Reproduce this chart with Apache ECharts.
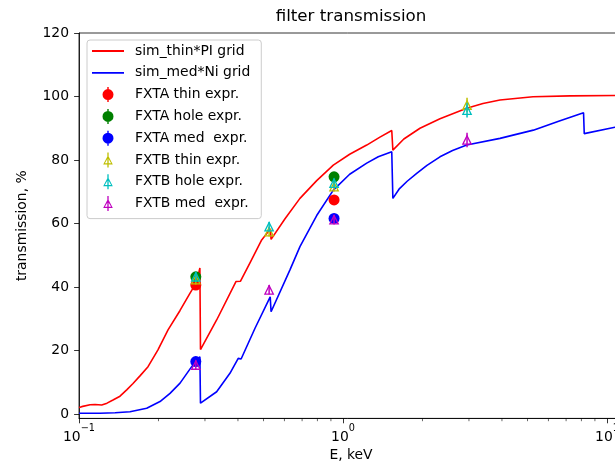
<!DOCTYPE html>
<html>
<head>
<meta charset="utf-8">
<script src="https://cdn.jsdelivr.net/npm/echarts@6/dist/echarts.min.js"></script>
<style>
  html, body { margin: 0; padding: 0; background: #fff; }
  #chart { width: 615px; height: 468px; }
</style>
</head>
<body>
<div id="chart"></div>
<script>
// Simulated transmission of the thin filter behind the PI grid (E in keV, T in %)
const thinE = [0.1, 0.1024, 0.1101, 0.115, 0.1219, 0.1277, 0.1345, 0.143, 0.1516, 0.1602, 0.1702,
  0.1826, 0.1991, 0.2174, 0.2414, 0.2631, 0.279, 0.287, 0.2885, 0.3322, 0.3931, 0.4086, 0.4443,
  0.492, 0.531, 0.534, 0.603, 0.687, 0.795, 0.919, 1.06, 1.23, 1.38, 1.53, 1.545, 1.7, 1.957,
  2.33, 2.942, 3.39, 3.932, 5.245, 7.24, 10.72, 11.5];
const thinT = [2.0, 2.3, 2.9, 3.0, 2.8, 3.4, 4.4, 5.6, 7.6, 9.6, 12.0,
  14.9, 20.2, 26.5, 32.6, 38.0, 41.5, 46.0, 20.3, 29.6, 41.7, 41.8, 47.6,
  54.8, 58.3, 55.0, 61.5, 67.9, 73.5, 78.4, 81.8, 84.7, 87.2, 89.3, 83.1, 86.6, 90.0,
  93.0, 96.3, 97.8, 98.9, 99.9, 100.2, 100.3, 100.3];

// Simulated transmission of the medium filter behind the Ni grid
const medE = [0.1, 0.12, 0.137, 0.156, 0.1805, 0.2027, 0.2212, 0.2414, 0.2672, 0.279, 0.287,
  0.2885, 0.3322, 0.373, 0.401, 0.4112, 0.4642, 0.53, 0.534, 0.6296, 0.687, 0.795, 0.919, 1.06,
  1.23, 1.36, 1.53, 1.545, 1.63, 1.75, 1.902, 2.08, 2.33, 2.6, 2.942, 3.932, 5.26, 6.6, 8.15, 8.2,
  10.72, 11.5];
const medT = [0.2, 0.2, 0.4, 0.7, 1.8, 3.9, 6.5, 9.7, 14.9, 16.8, 18.0,
  3.4, 7.0, 12.8, 17.5, 17.3, 27.0, 36.9, 32.2, 45.4, 52.7, 62.5, 70.5, 75.5,
  79.0, 81.0, 82.6, 67.9, 70.8, 73.3, 75.8, 78.3, 81.0, 83.0, 84.7, 86.8, 89.4, 92.3, 94.9, 88.3,
  90.3, 90.6];

// Measured points, FXTA (circles) and FXTB (open triangles), with errors
const fxtaE = [0.277, 0.925];
const fxtaThin = [40.6, 67.4];
const fxtaHole = [43.2, 74.7];
const fxtaMed = [16.5, 61.6];
const fxtaErr = [1.5, 1.5];

const fxtbE = [0.277, 0.525, 0.925, 2.95];
const fxtbThin = [42.3, 57.4, 71.6, 97.3];
const fxtbHole = [43.2, 59.0, 72.7, 95.7];
const fxtbMed = [15.4, 39.1, 61.2, 86.3];
const fxtbErr = [1.5, 1.5, 1.5, 2.3];

// Axis ticks
const yTicks = [0, 20, 40, 60, 80, 100, 120];
const xMinorTicks = [0.2, 0.3, 0.4, 0.5, 0.6, 0.7, 0.8, 0.9, 2, 3, 4, 5, 6, 7, 8, 9, 20, 30];

const Y_MIN = -1.4;
const FONT = 'DejaVu Sans';

const C = {
  r: '#ff0000', g: '#008000', b: '#0000ff',
  y: '#bfbf00', c: '#00bfbf', m: '#bf00bf'
};

function pairs(xs, ys) { return xs.map((x, i) => [x, ys[i]]); }

function lineSeries(name, xs, ys, color) {
  return {
    type: 'line', name, data: pairs(xs, ys),
    symbol: 'none', showSymbol: false, smooth: false,
    lineStyle: { color, width: 1.6 }, itemStyle: { color },
    z: 2
  };
}

// error bar + marker drawn through the axis scales
function errSeries(name, xs, ys, errs, color, shape, z) {
  return {
    type: 'custom', name, z,
    data: xs.map((x, i) => [x, ys[i], errs[i]]),
    itemStyle: { color },
    renderItem: (params, api) => {
      const x = api.value(0), y = api.value(1), e = api.value(2);
      const c = api.coord([x, y]);
      const lo = api.coord([x, y - e]);
      const hi = api.coord([x, y + e]);
      const children = [{
        type: 'line',
        shape: { x1: c[0], y1: lo[1], x2: c[0], y2: hi[1] },
        style: { stroke: color, lineWidth: 1.5 }
      }];
      if (shape === 'circle') {
        children.push({ type: 'circle', shape: { cx: c[0], cy: c[1], r: 5.5 }, style: { fill: color } });
      } else {
        const r = 4.2;
        children.push({
          type: 'polygon',
          shape: { points: [[c[0], c[1] - r], [c[0] + r, c[1] + r], [c[0] - r, c[1] + r]] },
          style: { fill: 'none', stroke: color, lineWidth: 1.3 }
        });
      }
      return { type: 'group', children };
    }
  };
}

// legend handles in a 32x16 box (the two empty moves pin the box size)
const BOX = 'M0 0Z M32 16Z ';
const lineIcon = 'path://' + BOX + 'M0 7.1 L32 7.1 L32 8.9 L0 8.9Z';
const circleIcon = 'path://' + BOX + 'M21.5 8 A5.5 5.5 0 1 1 10.5 8 A5.5 5.5 0 1 1 21.5 8Z M15.3 0.5 L16.7 0.5 L16.7 15.5 L15.3 15.5Z';
const triIcon = 'path://' + BOX + 'M16 3.2 L20.8 12.4 L11.2 12.4Z M16 5.8 L12.9 11.2 L19.1 11.2Z M15.35 0.5 L16.65 0.5 L16.65 15.5 L15.35 15.5Z';

function legendItem(name, icon, color) {
  return { name, icon, itemStyle: { color, borderColor: color, borderWidth: 0 } };
}

function supLabel(v) {
  const p = Math.round(Math.log10(v));
  const s = p < 0 ? '\u2212' + (-p) : String(p);
  return '{b|10}{s|' + s + '}';
}

const chart = echarts.init(document.getElementById('chart'), null, { renderer: 'canvas' });

chart.setOption({
  animation: false,
  backgroundColor: '#fff',
  textStyle: { fontFamily: FONT },
  grid: {
    left: 79, top: 33, bottom: 468 - 418.4, right: 615 - (79 + 792),
    containLabel: false, outerBoundsMode: 'none',
    show: true, borderColor: '#000', borderWidth: 0.8, backgroundColor: 'transparent'
  },
  graphic: [
    {
      type: 'text', x: 351, y: 17, silent: true,
      style: { text: 'filter transmission', font: '16.7px "DejaVu Sans"', fill: '#000', align: 'center', verticalAlign: 'middle' }
    },
    {
      type: 'text', x: 351, y: 455, silent: true,
      style: { text: 'E, keV', font: '13.9px "DejaVu Sans"', fill: '#000', align: 'center', verticalAlign: 'middle' }
    }
  ],
  xAxis: {
    type: 'log', logBase: 10, min: 0.1, max: 100,
    axisLine: { onZero: false, lineStyle: { color: '#000', width: 0.8 } },
    axisTick: { length: 4.9, lineStyle: { color: '#000', width: 0.8 } },
    axisLabel: {
      margin: 5,
      formatter: supLabel,
      rich: {
        b: { fontFamily: FONT, fontSize: 13.9, color: '#000', lineHeight: 21, verticalAlign: 'bottom' },
        s: { fontFamily: FONT, fontSize: 9.7, color: '#000', lineHeight: 12, verticalAlign: 'top' }
      }
    },
    splitLine: { show: false }
  },
  yAxis: {
    type: 'value', min: Y_MIN, max: 120,
    axisLine: { show: true, lineStyle: { color: '#000', width: 0.8 } },
    axisTick: { show: true, length: 4.9, customValues: yTicks, lineStyle: { color: '#000', width: 0.8 } },
    axisLabel: { customValues: yTicks, margin: 10, fontFamily: FONT, fontSize: 13.9, color: '#000' },
    splitLine: { show: false },
    name: 'transmission, %', nameLocation: 'middle', nameGap: 50,
    nameTextStyle: { fontFamily: FONT, fontSize: 13.9, color: '#000' }
  },
  legend: {
    orient: 'vertical', left: 87, top: 40,
    itemWidth: 32, itemHeight: 16, itemGap: 5.8,
    padding: [3, 11, 7, 5],
    selectedMode: false,
    backgroundColor: 'rgba(255,255,255,0.8)', borderColor: '#cccccc', borderWidth: 1, borderRadius: 3,
    textStyle: { fontFamily: FONT, fontSize: 13.9, color: '#000', lineHeight: 16, padding: [0, 0, 0, 6] },
    data: [
      legendItem('sim_thin*PI grid', lineIcon, C.r),
      legendItem('sim_med*Ni grid', lineIcon, C.b),
      legendItem('FXTA thin expr.', circleIcon, C.r),
      legendItem('FXTA hole expr.', circleIcon, C.g),
      legendItem('FXTA med  expr.', circleIcon, C.b),
      legendItem('FXTB thin expr.', triIcon, C.y),
      legendItem('FXTB hole expr.', triIcon, C.c),
      legendItem('FXTB med  expr.', triIcon, C.m)
    ]
  },
  series: [
    lineSeries('sim_thin*PI grid', thinE, thinT, C.r),
    lineSeries('sim_med*Ni grid', medE, medT, C.b),
    errSeries('FXTA thin expr.', fxtaE, fxtaThin, fxtaErr, C.r, 'circle', 3),
    errSeries('FXTA hole expr.', fxtaE, fxtaHole, fxtaErr, C.g, 'circle', 3),
    errSeries('FXTA med  expr.', fxtaE, fxtaMed, fxtaErr, C.b, 'circle', 3),
    errSeries('FXTB thin expr.', fxtbE, fxtbThin, fxtbErr, C.y, 'triangle', 3),
    errSeries('FXTB hole expr.', fxtbE, fxtbHole, fxtbErr, C.c, 'triangle', 3),
    errSeries('FXTB med  expr.', fxtbE, fxtbMed, fxtbErr, C.m, 'triangle', 3),
    {
      // minor log ticks on the energy axis
      type: 'custom', name: 'minor ticks', silent: true, clip: false, z: 1,
      data: xMinorTicks.map(v => [v, Y_MIN]),
      renderItem: (params, api) => {
        const p = api.coord([api.value(0), api.value(1)]);
        return { type: 'line', shape: { x1: p[0], y1: p[1], x2: p[0], y2: p[1] + 2.8 }, style: { stroke: '#000', lineWidth: 0.6 } };
      }
    }
  ]
});
</script>
</body>
</html>
